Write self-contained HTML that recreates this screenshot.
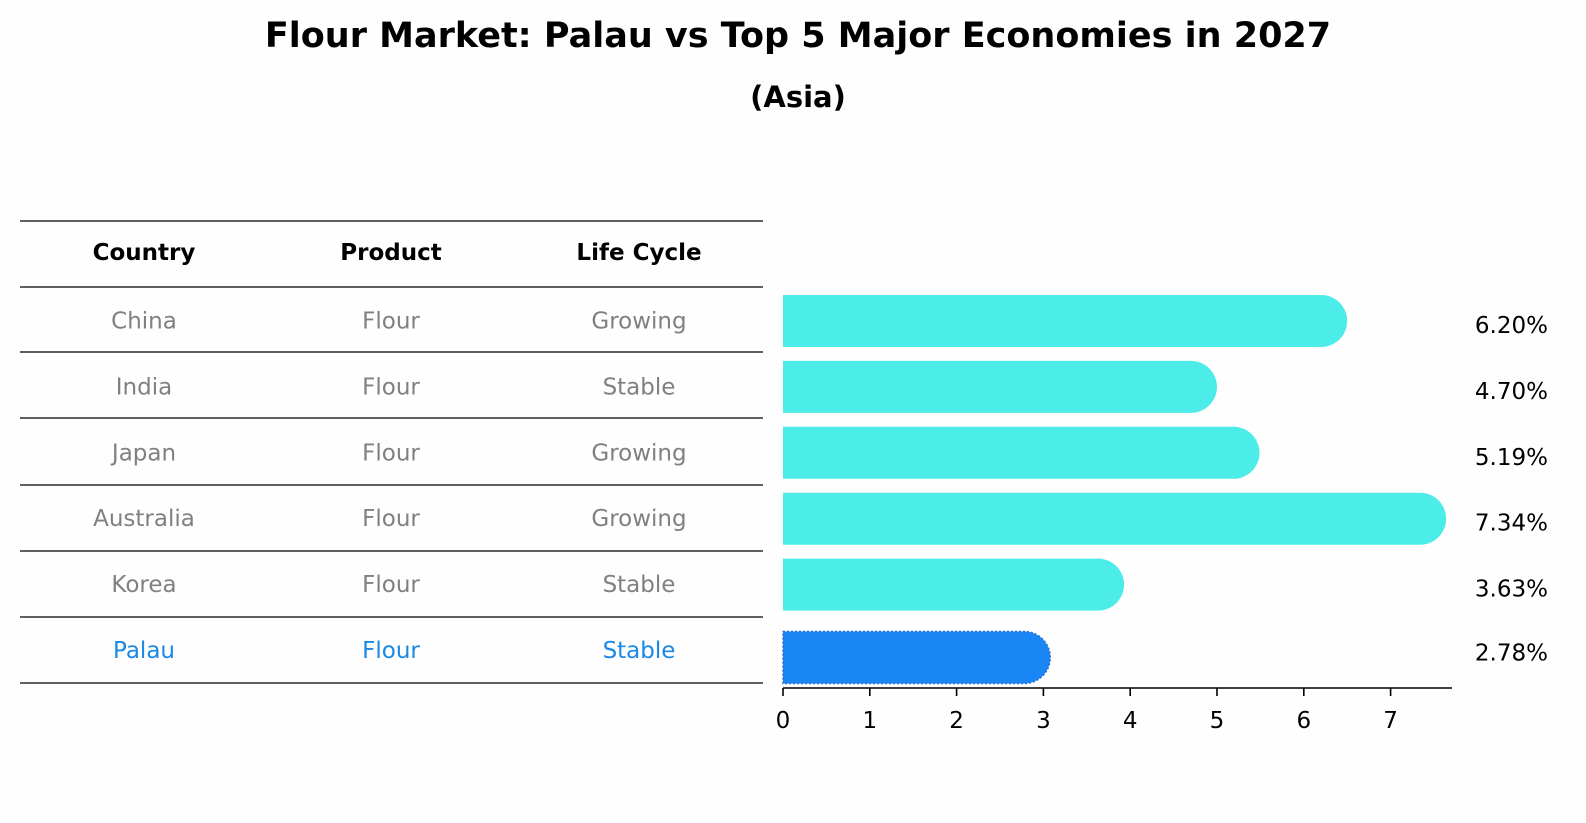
<!DOCTYPE html>
<html><head><meta charset="utf-8"><style>
body{margin:0;background:#fefefe;font-family:"Liberation Sans","DejaVu Sans",sans-serif;}
#wrap{position:relative;width:1586px;height:823px;overflow:hidden;}
.t{position:absolute;text-align:center;}
</style></head><body>
<div id="wrap">
<div class="t" style="left:0;width:1596px;top:16px;font-size:35px;font-weight:bold;font-family:'DejaVu Sans',sans-serif;">Flour Market: Palau vs Top 5 Major Economies in 2027</div>
<div class="t" style="left:0;width:1596px;top:80px;font-size:29px;font-weight:bold;font-family:'DejaVu Sans',sans-serif;">(Asia)</div>
<svg id="svg" width="1586" height="823" style="position:absolute;left:0;top:0" font-family="DejaVu Sans, sans-serif"></svg>
</div>
<script>
const countries=["China","India","Japan","Australia","Korea","Palau"];
const products=["Flour","Flour","Flour","Flour","Flour","Flour"];
const cycles=["Growing","Stable","Growing","Growing","Stable","Stable"];
const values=[6.20,4.70,5.19,7.34,3.63,2.78];
const ticks=[0,1,2,3,4,5,6,7];
const NS="http://www.w3.org/2000/svg";
const svg=document.getElementById('svg');
function mk(tag,attrs,text){const e=document.createElementNS(NS,tag);for(const k in attrs)e.setAttribute(k,attrs[k]);if(text!==undefined)e.textContent=text;svg.appendChild(e);return e;}
const x0=783,ux=86.8;
const xs=v=>x0+v*ux;
const ys=i=>321+i*65.9;
const bh=52;
// table
const cols=[144,391,639];
const hdr=["Country","Product","Life Cycle"];
hdr.forEach((h,j)=>{const t=mk('text',{x:cols[j],y:260,'text-anchor':'middle','font-size':23,'font-weight':'bold',fill:'#000'},h);

});
const lineYs=[221,287,352,418,485,551,617,683];
lineYs.forEach((y,k)=>{const l=mk('line',{x1:20,x2:763,y1:y,y2:y,stroke:'#000','stroke-width':1.3});

});
countries.forEach((c,i)=>{
  const y=ys(i)+6.5;const col=c==="Palau"?'#1a88e6':'#808080';
  [c,products[i],cycles[i]].forEach((txt,j)=>{
    const t=mk('text',{x:cols[j],y:y+1,'text-anchor':'middle','font-size':23,fill:col},txt);
    
    
  });
  const pal=c==="Palau";
  const yc=ys(i)+(pal?7:0);
  const x1=xs(values[i]);
  const p=mk('path',{d:`M${x0} ${yc-bh/2} H${x1} A${bh/2} ${bh/2} 0 0 1 ${x1} ${yc+bh/2} H${x0} Z`,fill:pal?'#1a86f5':'#4cede8',stroke:pal?'#2a6fd0':'none','stroke-dasharray':pal?'2 2':'none','stroke-width':pal?1.5:0});
  
  
  const lab=mk('text',{x:1548,y:ys(i)+10+(pal?0:2),'text-anchor':'end','font-size':23,fill:'#000'},values[i].toFixed(2)+'%');
  
  
});
const ax=mk('line',{x1:x0,x2:1452,y1:688,y2:688,stroke:'#000','stroke-width':1.6});


ticks.forEach(v=>{
  const l=mk('line',{x1:xs(v),x2:xs(v),y1:688,y2:696,stroke:'#000','stroke-width':1.6});
  
  
  const t=mk('text',{x:xs(v),y:728,'text-anchor':'middle','font-size':23,fill:'#000'},String(v));
  
  
});
</script>
</body></html>
